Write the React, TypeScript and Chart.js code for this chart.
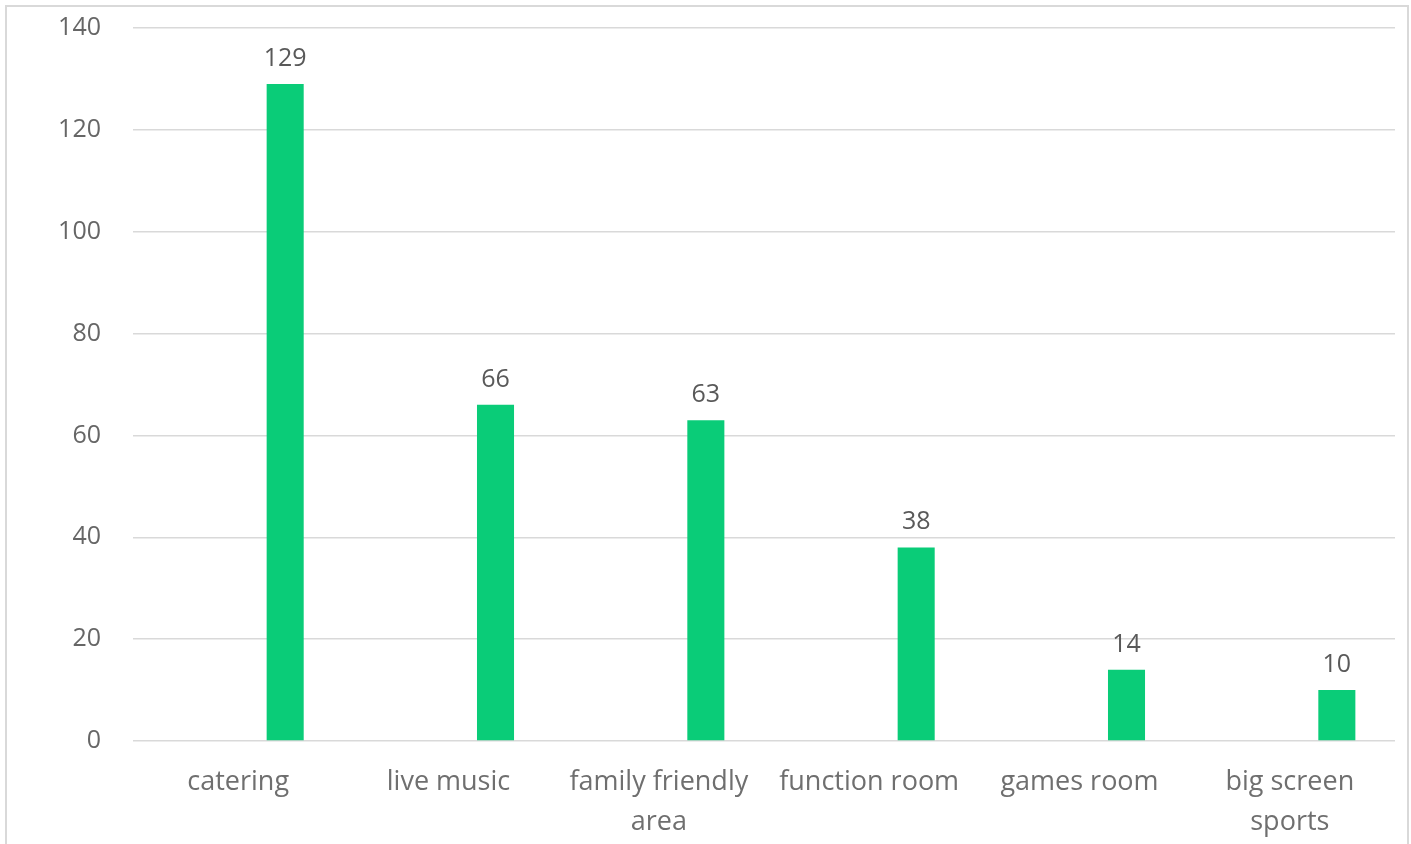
import React, { useEffect, useRef } from "react";
import { Chart, registerables } from "chart.js";

Chart.register(...registerables);

const categories: (string | string[])[] = [
  "catering",
  "live music",
  ["family friendly", "area"],
  "function room",
  "games room",
  ["big screen", "sports"],
];
const values: number[] = [129, 66, 63, 38, 14, 10];
const emptySeries: (number | null)[] = [null, null, null, null, null, null];
const yTicks: number[] = [0, 20, 40, 60, 80, 100, 120, 140];

const FONT = "'Open Sans', 'Noto Sans', sans-serif";

const dataLabelPlugin = {
  id: "dataLabels",
  afterDatasetsDraw(chart: any) {
    const ctx = chart.ctx;
    const meta = chart.getDatasetMeta(1);
    ctx.save();
    ctx.font = `25px ${FONT}`;
    ctx.fillStyle = "#595959";
    ctx.textAlign = "center";
    ctx.textBaseline = "alphabetic";
    meta.data.forEach((bar: any, i: number) => {
      const v = values[i];
      ctx.fillText(String(v), bar.x, bar.y - 18);
    });
    ctx.restore();
  },
};

export default function App() {
  const ref = useRef<HTMLCanvasElement | null>(null);
  useEffect(() => {
    if (!ref.current) return;
    const chart = new Chart(ref.current, {
      type: "bar",
      data: {
        labels: categories as any,
        datasets: [
          {
            label: "blank",
            data: emptySeries as any,
            backgroundColor: "#0acc78",
            categoryPercentage: 0.894,
            barPercentage: 0.394,
          },
          {
            label: "count",
            data: values,
            backgroundColor: "#0acc78",
            categoryPercentage: 0.894,
            barPercentage: 0.394,
          },
        ],
      },
      options: {
        responsive: false,
        animation: false,
        layout: { padding: { left: 0, right: 16, top: 28, bottom: 0 } },
        plugins: {
          legend: { display: false },
          tooltip: { enabled: false },
        },
        scales: {
          x: {
            grid: { display: false, drawTicks: false },
            border: { display: false },
            ticks: {
              color: "#6f6f6f",
              font: { family: FONT, size: 27, lineHeight: 1.48 },
              padding: 21,
              maxRotation: 0,
              autoSkip: false,
            },
            afterFit: (s: any) => {
              s.height = 103;
              s.paddingLeft = 0;
              s.paddingRight = 0;
            },
          },
          y: {
            min: 0,
            max: 140,
            afterBuildTicks: (s: any) => {
              s.ticks = yTicks.map((v) => ({ value: v }));
            },
            grid: { color: "#d9d9d9", lineWidth: 1.5, drawTicks: false },
            border: { display: false },
            ticks: {
              color: "#666666",
              font: { family: FONT, size: 25 },
              padding: 32,
            },
            afterFit: (s: any) => {
              s.width = 133;
              s.paddingTop = 0;
              s.paddingBottom = 0;
            },
          },
        },
      },
      plugins: [dataLabelPlugin],
    });
    return () => chart.destroy();
  }, []);

  return (
    <div
      style={{
        position: "fixed",
        left: 0,
        top: 0,
        width: 1411,
        height: 844,
        overflow: "hidden",
        background: "#ffffff",
      }}
    >
      <div
        style={{
          position: "absolute",
          left: 5,
          top: 5,
          width: 1400,
          height: 860,
          border: "2px solid #d9d9d9",
          boxSizing: "content-box",
        }}
      />
      <canvas
        ref={ref}
        width={1411}
        height={844}
        style={{ position: "absolute", left: 0, top: 0, width: 1411, height: 844 }}
      />
    </div>
  );
}
